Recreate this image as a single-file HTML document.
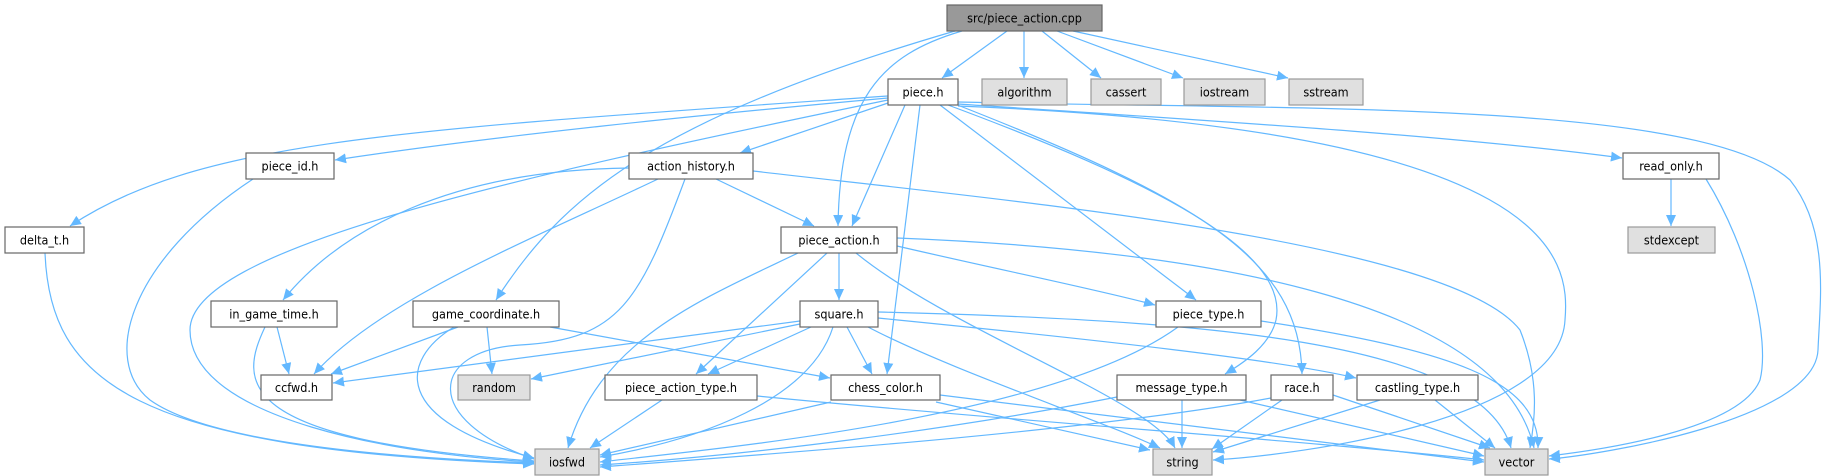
<!DOCTYPE html>
<html><head><meta charset="utf-8"><style>
html,body{margin:0;padding:0;background:#fff;}
svg{display:block;}
text{font-family:"DejaVu Sans Condensed","Liberation Sans Narrow","Liberation Sans",sans-serif;font-size:12.5px;fill:#000;text-anchor:middle;dominant-baseline:central;}
.e{fill:none;stroke:#63b8ff;stroke-width:1.2;marker-end:url(#a);}
.w{fill:#fff;stroke:#666;stroke-width:1.2;}
.g{fill:#e0e0e0;stroke:#999;stroke-width:1.2;}
.s{fill:#999;stroke:#666;stroke-width:1.2;}
</style></head><body>
<svg width="1826" height="476" viewBox="0 0 1826 476" xmlns="http://www.w3.org/2000/svg">
<defs><marker id="a" markerUnits="userSpaceOnUse" markerWidth="12" markerHeight="10" refX="11" refY="5" orient="auto"><path d="M0,0 L11,5 L0,10 z" fill="#63b8ff"/></marker></defs>
<g>
<path class="e" d="M1007,31 L942,78"/>
<path class="e" d="M1024,31 L1024,78"/>
<path class="e" d="M1042,31 L1101,78"/>
<path class="e" d="M1057,31 L1183,78"/>
<path class="e" d="M1073,31 L1288,78"/>
<path class="e" d="M962,31 C880,55 840,100 838,226"/>
<path class="e" d="M955,31 C650,120 560,200 496,300"/>
<path class="e" d="M888,96 C400,130 200,140 70,226"/>
<path class="e" d="M888,98 C700,115 500,135 335,160"/>
<path class="e" d="M888,100 C500,180 190,250 190,330 C190,420 400,455 534,462"/>
<path class="e" d="M888,103 L740,153"/>
<path class="e" d="M905,105 L852,226"/>
<path class="e" d="M920,105 L887,374"/>
<path class="e" d="M940,105 L1196,300"/>
<path class="e" d="M948,105 C1150,180 1290,250 1276,320 C1270,345 1245,362 1225,374"/>
<path class="e" d="M955,104 C1200,200 1300,260 1302,374"/>
<path class="e" d="M958,106 C1560,130 1570,260 1565,320 C1560,420 1300,455 1213,460"/>
<path class="e" d="M958,104 C1200,120 1450,135 1622,158"/>
<path class="e" d="M958,102 C1300,110 1700,100 1790,180 C1830,230 1820,300 1818,350 C1815,420 1600,455 1549,459"/>
<path class="e" d="M253,179 C130,260 100,360 150,400 C220,450 450,460 534,463"/>
<path class="e" d="M45,253 C50,380 130,450 534,464"/>
<path class="e" d="M629,168 C450,170 340,230 283,300"/>
<path class="e" d="M658,179 C530,240 380,300 314,374"/>
<path class="e" d="M685,179 C640,300 620,340 520,345 C430,350 420,420 534,459"/>
<path class="e" d="M716,179 L814,226"/>
<path class="e" d="M753,171 C1000,200 1450,240 1520,330 C1540,380 1535,420 1530,448"/>
<path class="e" d="M798,253 C700,300 600,340 568,448"/>
<path class="e" d="M827,253 L696,374"/>
<path class="e" d="M839,253 L839,300"/>
<path class="e" d="M856,253 C950,330 1150,400 1175,448"/>
<path class="e" d="M897,246 C1000,270 1100,290 1155,305"/>
<path class="e" d="M897,238 C1200,250 1500,300 1534,448"/>
<path class="e" d="M458,327 L331,374"/>
<path class="e" d="M454,327 C400,360 390,420 534,458"/>
<path class="e" d="M487,327 L492,374"/>
<path class="e" d="M550,327 L830,378"/>
<path class="e" d="M277,327 L289,374"/>
<path class="e" d="M265,327 C240,380 230,440 534,461"/>
<path class="e" d="M800,321 L333,383"/>
<path class="e" d="M800,324 L531,379"/>
<path class="e" d="M811,327 L708,374"/>
<path class="e" d="M847,327 L872,374"/>
<path class="e" d="M833,327 C810,400 700,440 600,457"/>
<path class="e" d="M868,327 C950,370 1100,420 1160,448"/>
<path class="e" d="M878,318 C1100,340 1280,360 1356,378"/>
<path class="e" d="M878,312 C1200,320 1480,340 1511,448"/>
<path class="e" d="M1178,327 C1050,420 700,450 600,462"/>
<path class="e" d="M1261,321 C1450,350 1540,380 1538,448"/>
<path class="e" d="M662,400 L590,448"/>
<path class="e" d="M757,396 C1000,420 1300,440 1484,460"/>
<path class="e" d="M831,402 L600,455"/>
<path class="e" d="M936,402 L1150,450"/>
<path class="e" d="M940,395 C1150,420 1350,445 1484,462"/>
<path class="e" d="M1117,397 C950,430 750,455 600,465"/>
<path class="e" d="M1182,400 L1182,448"/>
<path class="e" d="M1240,400 L1484,456"/>
<path class="e" d="M1271,398 C1100,430 800,452 600,467"/>
<path class="e" d="M1282,400 L1212,449"/>
<path class="e" d="M1333,395 L1490,448"/>
<path class="e" d="M1380,400 L1213,452"/>
<path class="e" d="M1435,400 L1495,448"/>
<path class="e" d="M1671,179 L1671,226"/>
<path class="e" d="M1706,179 C1750,250 1770,340 1760,380 C1740,430 1600,450 1549,456"/>
</g>
<g>
<rect class="s" x="947" y="5" width="155" height="26"/><text x="1024.5" y="18">src/piece_action.cpp</text>
<rect class="w" x="888" y="79" width="70" height="26"/><text x="923" y="92">piece.h</text>
<rect class="g" x="982" y="79" width="85" height="26"/><text x="1024.5" y="92">algorithm</text>
<rect class="g" x="1091" y="79" width="70" height="26"/><text x="1126" y="92">cassert</text>
<rect class="g" x="1184" y="79" width="81" height="26"/><text x="1224.5" y="92">iostream</text>
<rect class="g" x="1289" y="79" width="74" height="26"/><text x="1326" y="92">sstream</text>
<rect class="w" x="246" y="153" width="88" height="26"/><text x="290" y="166">piece_id.h</text>
<rect class="w" x="629" y="153" width="124" height="26"/><text x="691" y="166">action_history.h</text>
<rect class="w" x="1623" y="153" width="96" height="26"/><text x="1671" y="166">read_only.h</text>
<rect class="w" x="5" y="227" width="79" height="26"/><text x="44.5" y="240">delta_t.h</text>
<rect class="w" x="781" y="227" width="116" height="26"/><text x="839" y="240">piece_action.h</text>
<rect class="g" x="1628" y="227" width="87" height="26"/><text x="1671.5" y="240">stdexcept</text>
<rect class="w" x="211" y="301" width="126" height="26"/><text x="274" y="314">in_game_time.h</text>
<rect class="w" x="413" y="301" width="146" height="26"/><text x="486" y="314">game_coordinate.h</text>
<rect class="w" x="800" y="301" width="78" height="26"/><text x="839" y="314">square.h</text>
<rect class="w" x="1156" y="301" width="105" height="26"/><text x="1208.5" y="314">piece_type.h</text>
<rect class="w" x="261" y="375" width="71" height="25"/><text x="296.5" y="387.5">ccfwd.h</text>
<rect class="g" x="458" y="375" width="72" height="25"/><text x="494" y="387.5">random</text>
<rect class="w" x="605" y="375" width="152" height="25"/><text x="681" y="387.5">piece_action_type.h</text>
<rect class="w" x="831" y="375" width="109" height="25"/><text x="885.5" y="387.5">chess_color.h</text>
<rect class="w" x="1117" y="375" width="129" height="25"/><text x="1181.5" y="387.5">message_type.h</text>
<rect class="w" x="1271" y="375" width="62" height="25"/><text x="1302" y="387.5">race.h</text>
<rect class="w" x="1357" y="375" width="121" height="25"/><text x="1417.5" y="387.5">castling_type.h</text>
<rect class="g" x="535" y="449" width="64" height="26"/><text x="567" y="462">iosfwd</text>
<rect class="g" x="1153" y="449" width="59" height="26"/><text x="1182.5" y="462">string</text>
<rect class="g" x="1485" y="449" width="63" height="26"/><text x="1516.5" y="462">vector</text>
</g>
</svg>
</body></html>
